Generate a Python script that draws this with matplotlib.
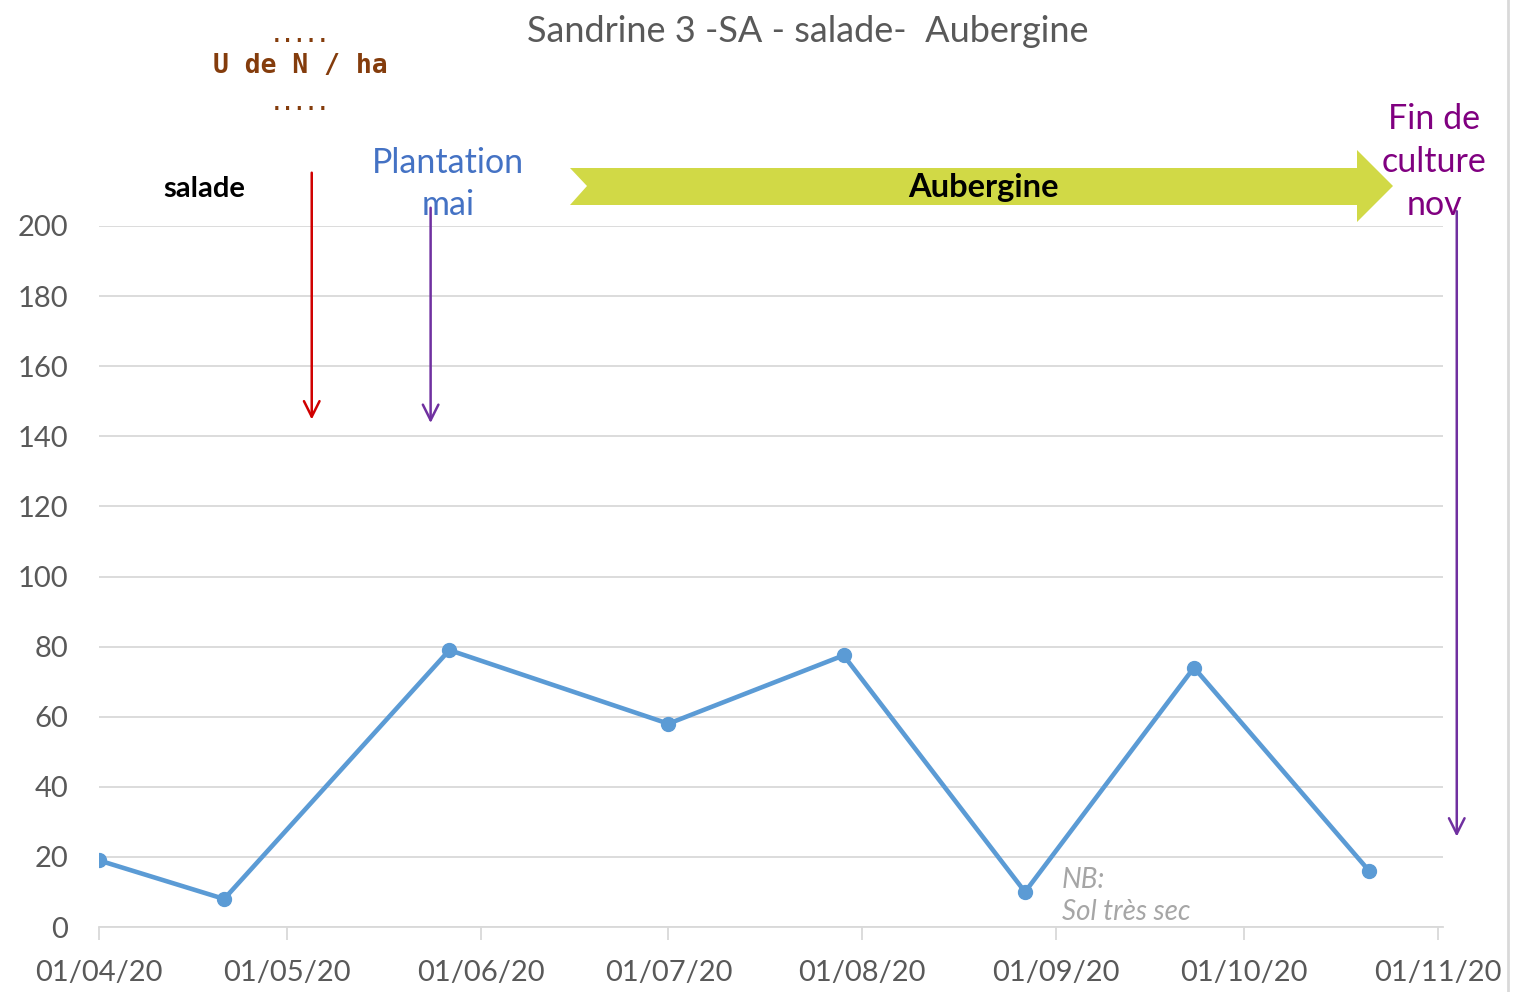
import numpy as np
import pandas as pd
import matplotlib
matplotlib.use("Agg")
import matplotlib.pyplot as plt
import matplotlib.dates as mdates
from matplotlib.patches import Polygon

plt.rcParams['font.family'] = ['Lato', 'DejaVu Sans']

# ------------------- DONNEES -------------------
dates = ['2020-04-01', '2020-04-21', '2020-05-27', '2020-07-01',
         '2020-07-29', '2020-08-27', '2020-09-23', '2020-10-21']
valeurs = [19, 8, 79, 58, 77.5, 10, 74, 16]

tick_dates = ['2020-04-01', '2020-05-01', '2020-06-01', '2020-07-01',
              '2020-08-01', '2020-09-01', '2020-10-01', '2020-11-01']
tick_labels = ['01/04/20', '01/05/20', '01/06/20', '01/07/20',
               '01/08/20', '01/09/20', '01/10/20', '01/11/20']
y_ticks = [0, 20, 40, 60, 80, 100, 120, 140, 160, 180, 200]

titre = "Sandrine 3 -SA - salade-  Aubergine"

# fleches (date, y debut, y fin, couleur)
fleches = [
    ('2020-05-05', 216, 144, '#D00000'),
    ('2020-05-24', 206, 143, '#7030A0'),
    ('2020-11-04', 205, 25, '#7030A0'),
]

x = pd.to_datetime(dates)
W, H = 1515, 992


def px(xp, yp):
    # pixels -> fraction de figure
    return xp / W, 1 - yp / H


fig = plt.figure(figsize=(W / 100, H / 100), dpi=100)
l, b = px(99, 927)
r, t = px(1443, 226)
ax = fig.add_axes([l, b, r - l, t - b])

ax.plot(x, valeurs, color='#5B9BD5', lw=3.3, marker='o', ms=10, zorder=3)

ax.set_ylim(0, 200)
ax.set_xlim(mdates.date2num(pd.Timestamp('2020-04-01')),
            mdates.date2num(pd.Timestamp('2020-04-01')) + 214.8)
ax.set_yticks(y_ticks)
ax.set_xticks(pd.to_datetime(tick_dates))
ax.set_xticklabels(tick_labels)
ax.grid(axis='y', color='#D9D9D9', lw=1.3)
ax.set_axisbelow(True)
for s in ['top', 'right', 'left']:
    ax.spines[s].set_visible(False)
ax.spines['bottom'].set_color('#D9D9D9')
ax.spines['bottom'].set_linewidth(1.3)
ax.tick_params(axis='y', length=0, labelsize=21, labelcolor='#595959', pad=22)
ax.tick_params(axis='x', length=9, width=1.3, color='#D9D9D9',
               labelsize=21, labelcolor='#595959', pad=15)

# ------------------- ANNOTATIONS -------------------
for d, y0, y1, c in fleches:
    xd = mdates.date2num(pd.Timestamp(d))
    ax.annotate('', xy=(xd, y1), xytext=(xd, y0),
                arrowprops=dict(arrowstyle='->', color=c, lw=1.8,
                                mutation_scale=28),
                annotation_clip=False)

fig.text(*px(808, 32), titre, ha='center', va='center', fontsize=26,
         color='#595959')
brun = '#843C0C'
fig.text(*px(300, 37), '.....', ha='center', va='center', fontsize=14,
         color=brun, family='DejaVu Sans Mono', weight='bold')
fig.text(*px(300, 66), 'U de N / ha', ha='center', va='center', fontsize=19,
         color=brun, family='DejaVu Sans Mono', weight='bold')
fig.text(*px(300, 104), '.....', ha='center', va='center', fontsize=14,
         color=brun, family='DejaVu Sans Mono', weight='bold')
fig.text(*px(204, 189), 'salade', ha='center', va='center', fontsize=21,
         color='black', weight='bold')
fig.text(*px(448, 184), 'Plantation\nmai', ha='center', va='center',
         fontsize=24.5, color='#4472C4', linespacing=1.42)
fig.text(*px(1434, 162), 'Fin de\nculture\nnov', ha='center', va='center',
         fontsize=24.5, color='#800080', linespacing=1.42)
fig.text(*px(1062, 896), 'NB:\nSol très sec', ha='left', va='center',
         fontsize=20, color='#A6A6A6', style='italic', linespacing=1.3)

# fleche Aubergine
pts = [(570, 168), (1357, 168), (1357, 150), (1393, 186), (1357, 222),
       (1357, 205), (570, 205), (587, 186)]
fig.patches.append(Polygon([px(a, c) for a, c in pts], closed=True,
                           transform=fig.transFigure, facecolor='#D1D946',
                           edgecolor='none', zorder=1))
fig.text(*px(983, 188), 'Aubergine', ha='center', va='center', fontsize=23.5,
         color='black', weight='bold', zorder=5)

# bordure droite
fig.add_artist(plt.Line2D([1508 / W, 1508 / W], [0, 1],
                          transform=fig.transFigure, color='#D9D9D9', lw=2))

plt.savefig('out.png', dpi=100)
